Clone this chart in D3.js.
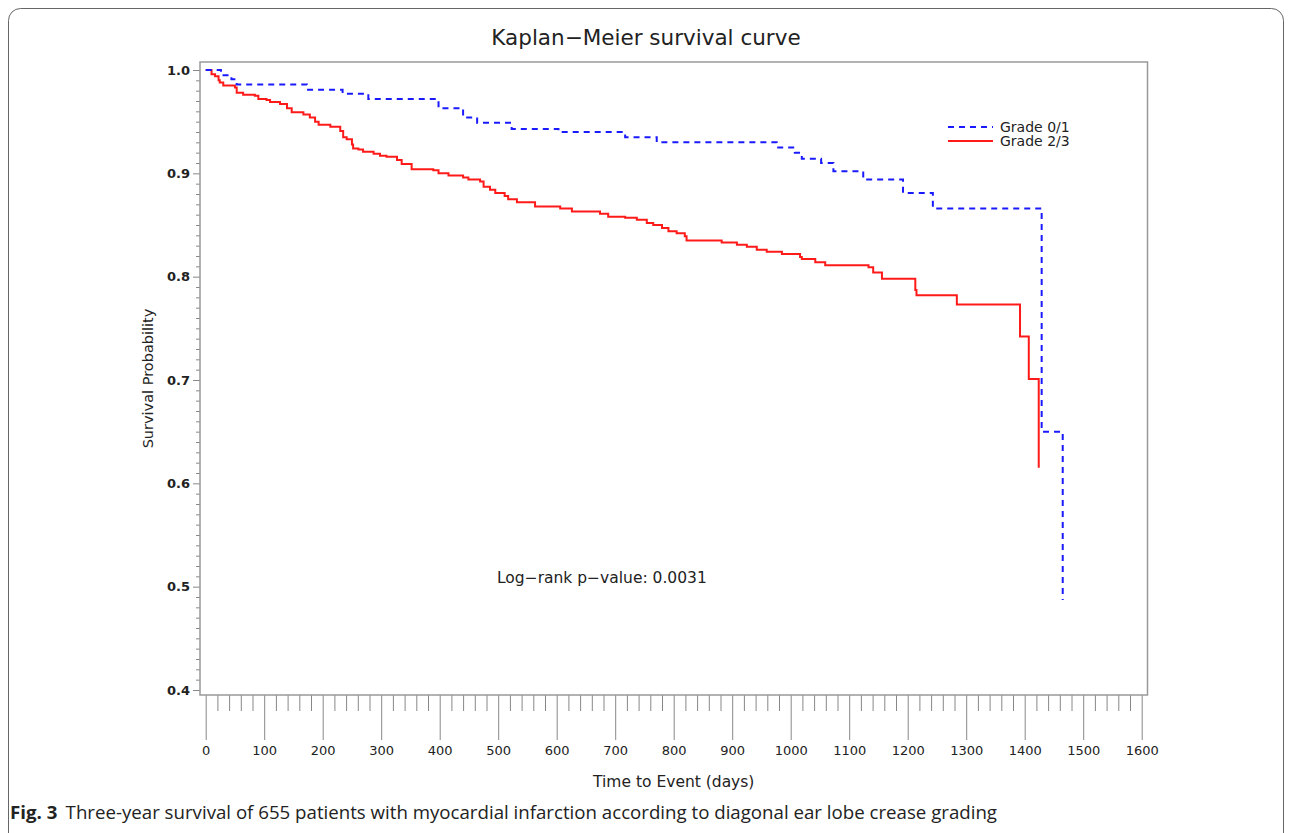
<!DOCTYPE html>
<html lang="en">
<head>
<meta charset="UTF-8">
<title>Kaplan-Meier survival curve</title>
<script src="https://d3js.org/d3.v7.min.js"></script>
<style>
  body { margin: 0; background: #fff; }
  svg text { font-family: "DejaVu Sans", sans-serif; fill: #222; }
  .caption text { font-family: "Open Sans", sans-serif; }
</style>
</head>
<body>
<div id="chart"></div>
<script>
// Grade 0/1 (blue, dashed) - time of each drop (days) and survival after it
const grade01Time = [0, 26, 44, 53, 173, 234, 278, 398, 440, 464, 523, 603, 717, 771, 976, 1007, 1019, 1052, 1073, 1124, 1192, 1243, 1429, 1465];
const grade01Surv = [1.0, 0.995, 0.991, 0.986, 0.981, 0.977, 0.972, 0.963, 0.954, 0.949, 0.943, 0.940, 0.935, 0.930, 0.925, 0.920, 0.914, 0.910, 0.902, 0.894, 0.881, 0.866, 0.650, 0.487];

// Grade 2/3 (red, solid)
const grade23Time = [0, 10, 16, 22, 24, 30, 50, 53, 64, 84, 90, 104, 110, 127, 139, 147, 167, 178, 187, 193,
  213, 230, 235, 241, 250, 252, 261, 269, 287, 298, 309, 327, 335, 352, 389, 398, 415, 440, 449, 469,
  475, 486, 495, 511, 517, 532, 563, 606, 626, 674, 688, 717, 737, 754, 765, 780, 791, 805, 819, 822,
  882, 908, 925, 942, 959, 985, 1016, 1019, 1042, 1059, 1133, 1141, 1156, 1213, 1215, 1284, 1392, 1407, 1424];
const grade23Surv = [1.0, 0.996, 0.994, 0.990, 0.988, 0.985, 0.983, 0.978, 0.976, 0.975, 0.972, 0.971, 0.969, 0.967, 0.963, 0.959, 0.957, 0.954, 0.950, 0.947,
  0.945, 0.941, 0.935, 0.933, 0.928, 0.924, 0.923, 0.921, 0.919, 0.917, 0.916, 0.913, 0.909, 0.904, 0.903, 0.900, 0.898, 0.896, 0.894, 0.892,
  0.887, 0.884, 0.881, 0.878, 0.875, 0.872, 0.868, 0.866, 0.863, 0.861, 0.858, 0.857, 0.855, 0.852, 0.850, 0.847, 0.844, 0.842, 0.839, 0.835,
  0.833, 0.831, 0.829, 0.826, 0.824, 0.822, 0.819, 0.817, 0.814, 0.811, 0.809, 0.804, 0.798, 0.787, 0.782, 0.773, 0.742, 0.701, 0.615];

const xTickLabels = [0, 100, 200, 300, 400, 500, 600, 700, 800, 900, 1000, 1100, 1200, 1300, 1400, 1500, 1600];
const yTickLabels = [0.4, 0.5, 0.6, 0.7, 0.8, 0.9, 1.0];
const seriesNames = ["Grade 0/1", "Grade 2/3"];

const W = 1290, H = 833;
const svg = d3.select("#chart").append("svg")
    .attr("width", W)
    .attr("height", H);

svg.append("rect").attr("width", W).attr("height", H).attr("fill", "#fff");

// outer figure border (rounded)
svg.append("rect")
    .attr("x", 8.5).attr("y", 8.5)
    .attr("width", 1275).attr("height", 850)
    .attr("rx", 12)
    .attr("fill", "none")
    .attr("stroke", "#666")
    .attr("stroke-width", 1);

const x = d3.scaleLinear().domain([0, 1600]).range([205.7, 1141.7]);
const y = d3.scaleLinear().domain([0.4, 1.0]).range([690, 70]);

const frame = {left: 200, right: 1147.5, top: 62, bottom: 695};

// y axis: minor ticks every 0.01, major every 0.1
const yMinor = d3.range(40, 101).filter(v => v % 10 !== 0).map(v => v / 100);
svg.append("g")
    .attr("transform", `translate(${frame.left},0)`)
    .call(d3.axisLeft(y).tickValues(yMinor).tickSize(4).tickFormat(""))
    .call(g => g.select(".domain").remove())
    .call(g => g.selectAll("line").attr("stroke", "#888"));

svg.append("g")
    .attr("transform", `translate(${frame.left},0)`)
    .call(d3.axisLeft(y).tickValues(yTickLabels).tickSize(7).tickPadding(3).tickFormat(d3.format(".1f")))
    .call(g => g.select(".domain").remove())
    .call(g => g.selectAll("line").attr("stroke", "#888"))
    .call(g => g.selectAll("text").attr("font-size", 13).attr("font-weight", "bold").attr("fill", "#222"));

// x axis: minor ticks every 20 days, major every 100
const xMinor = d3.range(0, 1601, 20).filter(v => v % 100 !== 0);
svg.append("g")
    .attr("transform", `translate(0,${frame.bottom})`)
    .call(d3.axisBottom(x).tickValues(xMinor).tickSize(16).tickFormat(""))
    .call(g => g.select(".domain").remove())
    .call(g => g.selectAll("line").attr("stroke", "#888"));

svg.append("g")
    .attr("transform", `translate(0,${frame.bottom})`)
    .call(d3.axisBottom(x).tickValues(xTickLabels).tickSize(45).tickPadding(6).tickFormat(d3.format("d")))
    .call(g => g.select(".domain").remove())
    .call(g => g.selectAll("line").attr("stroke", "#888"))
    .call(g => g.selectAll("text").attr("font-size", 13).attr("fill", "#222"));

// plot frame
svg.append("rect")
    .attr("x", frame.left).attr("y", frame.top)
    .attr("width", frame.right - frame.left)
    .attr("height", frame.bottom - frame.top)
    .attr("fill", "none")
    .attr("stroke", "#999")
    .attr("stroke-width", 1.5);

// survival curves
const line = d3.line()
    .x(d => x(d[0]))
    .y(d => y(d[1]))
    .curve(d3.curveStepAfter);

const blueData = grade01Time.map((t, i) => [t, grade01Surv[i]]);
const redData = grade23Time.map((t, i) => [t, grade23Surv[i]]);

svg.append("path")
    .datum(redData)
    .attr("d", line)
    .attr("fill", "none")
    .attr("stroke", "#ff1a1a")
    .attr("stroke-width", 2);

svg.append("path")
    .datum(blueData)
    .attr("d", line)
    .attr("fill", "none")
    .attr("stroke", "#1a1aff")
    .attr("stroke-width", 2)
    .attr("stroke-dasharray", "6,5");

// legend
const legend = svg.append("g").attr("transform", "translate(948,127)");
legend.append("line").attr("x1", 0).attr("x2", 45).attr("y1", 0).attr("y2", 0)
    .attr("stroke", "#1a1aff").attr("stroke-width", 2).attr("stroke-dasharray", "6,5");
legend.append("line").attr("x1", 0).attr("x2", 45).attr("y1", 14).attr("y2", 14)
    .attr("stroke", "#ff1a1a").attr("stroke-width", 2);
legend.selectAll("text.lab")
    .data(seriesNames)
    .enter().append("text")
    .attr("class", "lab")
    .attr("x", 52)
    .attr("y", (d, i) => i * 14)
    .attr("dy", "0.35em")
    .attr("font-size", 14)
    .text(d => d);

// title
svg.append("text")
    .attr("x", 646).attr("y", 37)
    .attr("dy", "0.35em")
    .attr("text-anchor", "middle")
    .attr("font-size", 21.5)
    .text("Kaplan\u2212Meier survival curve");

// axis titles
svg.append("text")
    .attr("x", (frame.left + frame.right) / 2).attr("y", 782)
    .attr("dy", "0.35em")
    .attr("text-anchor", "middle")
    .attr("font-size", 15.5)
    .text("Time to Event (days)");

svg.append("text")
    .attr("transform", `translate(148,${(frame.top + frame.bottom) / 2}) rotate(-90)`)
    .attr("dy", "0.35em")
    .attr("text-anchor", "middle")
    .attr("font-size", 14.5)
    .text("Survival Probability");

// p-value annotation
svg.append("text")
    .attr("x", 497).attr("y", 578)
    .attr("dy", "0.35em")
    .attr("font-size", 15.5)
    .text("Log\u2212rank p\u2212value: 0.0031");

// figure caption
const cap = svg.append("g").attr("class", "caption");
const capText = cap.append("text").attr("x", 10).attr("y", 819).attr("font-size", 18)
    .attr("textLength", 987).attr("lengthAdjust", "spacingAndGlyphs");
capText.append("tspan").attr("font-weight", "bold").text("Fig. 3");
capText.append("tspan").attr("dx", 8).text("Three-year survival of 655 patients with myocardial infarction according to diagonal ear lobe crease grading");
</script>
</body>
</html>
